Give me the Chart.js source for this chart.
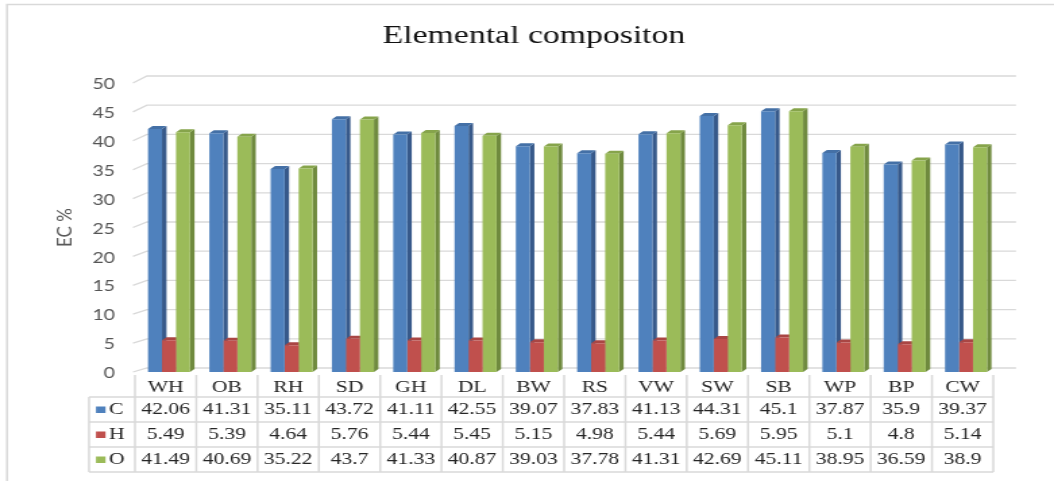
<!DOCTYPE html>
<html><head><meta charset="utf-8">
<script src="https://cdn.jsdelivr.net/npm/chart.js@4.4.1/dist/chart.umd.min.js"></script>
<style>html,body{margin:0;padding:0;background:#fff;overflow:hidden}</style>
</head><body>
<canvas id="c" width="781" height="481" style="width:1054px;height:481px;display:block"></canvas>
<script>
const categories = ['WH','OB','RH','SD','GH','DL','BW','RS','VW','SW','SB','WP','BP','CW'];
const carbon   = [42.06,41.31,35.11,43.72,41.11,42.55,39.07,37.83,41.13,44.31,45.1,37.87,35.9,39.37];
const hydrogen = [5.49,5.39,4.64,5.76,5.44,5.45,5.15,4.98,5.44,5.69,5.95,5.1,4.8,5.14];
const oxygen   = [41.49,40.69,35.22,43.7,41.33,40.87,39.03,37.78,41.31,42.69,45.11,38.95,36.59,38.9];
const seriesNames = ['C','H','O'];
const yTickValues = [0,5,10,15,20,25,30,35,40,45,50];
const chartTitle = 'Elemental compositon';
const yTitle = 'EC %';

const S = 1054/781;            // horizontal stretch of the picture
const X = r => r / S;          // picture x -> canvas x
const frontCol = ['#4F81BD','#C0504D','#9BBB59'];
const sideCol  = ['#37598A','#8E3A38','#6F8A3E'];
const topCol   = ['#4470A6','#A94644','#86A44B'];
const gridCol = '#D9D9D9';
const DX = X(4.5), DY = 3;

const seriesValues = [carbon, hydrogen, oxygen];

const deco = {
  id: 'deco',
  beforeDraw(chart) {
    const ctx = chart.ctx;
    ctx.save();
    // outer frame (left & top)
    ctx.strokeStyle = gridCol; ctx.lineWidth = 1.5;
    ctx.beginPath();
    ctx.moveTo(X(7), 482); ctx.lineTo(X(7), 4.5); ctx.lineTo(800, 4.5);
    ctx.stroke();
    // title
    ctx.fillStyle = '#111'; ctx.font = '25px "Liberation Serif", "Times New Roman", serif';
    ctx.textAlign = 'center'; ctx.textBaseline = 'middle';
    ctx.fillText(chartTitle, X(534), 36);
    // y-axis title
    const ca = chart.chartArea;
    ctx.save();
    ctx.translate(X(65), (ca.top + ca.bottom) / 2);
    ctx.scale(0.85, 1);
    ctx.rotate(-Math.PI / 2);
    ctx.fillStyle = '#595959'; ctx.font = '17px Lato, "Open Sans", sans-serif';
    ctx.fillText(yTitle, 0, 0);
    ctx.restore();
    ctx.restore();
  },
  beforeDatasetsDraw(chart) {
    const ctx = chart.ctx, ca = chart.chartArea, y = chart.scales.y;
    const backTop = 76, backBottom = 368;
    const frontLeft = ca.left - 4, backLeft = X(147), backRight = X(1016);
    ctx.save();
    ctx.strokeStyle = gridCol; ctx.lineWidth = 1.3;
    yTickValues.forEach(v => {
      const fy = y.getPixelForValue(v);
      const by = backTop + (fy - ca.top) * (backBottom - backTop) / (ca.bottom - ca.top);
      ctx.beginPath();
      ctx.moveTo(frontLeft, fy); ctx.lineTo(backLeft, by); ctx.lineTo(backRight, by);
      ctx.stroke();
    });
    // 3D side & top faces (fronts are drawn by Chart.js afterwards)
    const metas = [0,1,2].map(i => chart.getDatasetMeta(i));
    metas.forEach((meta, di) => {
      meta.data.forEach(el => {
        const p = el.getProps(['x','y','base','width'], true);
        const r = p.x + p.width / 2;
        ctx.fillStyle = sideCol[di];
        ctx.beginPath();
        ctx.moveTo(r, p.y); ctx.lineTo(r + DX, p.y - DY); ctx.lineTo(r + DX, p.base - DY); ctx.lineTo(r, p.base);
        ctx.closePath(); ctx.fill();
      });
    });
    metas.forEach((meta, di) => {
      meta.data.forEach(el => {
        const p = el.getProps(['x','y','base','width'], true);
        const l = p.x - p.width / 2, r = p.x + p.width / 2;
        ctx.fillStyle = topCol[di];
        ctx.beginPath();
        ctx.moveTo(l, p.y); ctx.lineTo(l + DX, p.y - DY); ctx.lineTo(r + DX, p.y - DY); ctx.lineTo(r, p.y);
        ctx.closePath(); ctx.fill();
      });
    });
    ctx.restore();
  },
  afterDraw(chart) {
    const ctx = chart.ctx, xs = chart.scales.x;
    const half = (xs.getPixelForValue(1) - xs.getPixelForValue(0)) / 2;
    const shift = -2.5;
    const colL = i => xs.getPixelForValue(i) - half + shift;
    const n = categories.length;
    const tableRight = colL(n - 1) + 2 * half;
    const headL = X(89);
    const rowLines = [397, 422, 447, 472];
    const topY = 375;
    ctx.save();
    ctx.strokeStyle = gridCol; ctx.lineWidth = 1.5;
    ctx.beginPath();
    rowLines.forEach(ry => { ctx.moveTo(headL, ry); ctx.lineTo(tableRight, ry); });
    for (let i = 0; i <= n; i++) {
      const cx = i < n ? colL(i) : tableRight;
      ctx.moveTo(cx, topY); ctx.lineTo(cx, rowLines[3]);
    }
    ctx.moveTo(headL, rowLines[0]); ctx.lineTo(headL, rowLines[3]);
    ctx.stroke();
    ctx.fillStyle = '#262626';
    ctx.font = '16px "Liberation Serif", "Times New Roman", serif';
    ctx.textAlign = 'center'; ctx.textBaseline = 'middle';
    categories.forEach((c, i) => ctx.fillText(c, colL(i) + half, 388));
    const rowMid = [410, 435, 460];
    seriesValues.forEach((vals, si) => {
      vals.forEach((v, i) => ctx.fillText(String(v), colL(i) + half, rowMid[si]));
      ctx.fillStyle = frontCol[si];
      ctx.fillRect(X(96), rowMid[si] - 3.5, X(9.5), 6.5);
      ctx.fillStyle = '#262626';
      ctx.textAlign = 'left';
      ctx.fillText(seriesNames[si], X(109), rowMid[si]);
      ctx.textAlign = 'center';
    });
    ctx.restore();
  }
};

new Chart(document.getElementById('c'), {
  type: 'bar',
  data: {
    labels: categories,
    datasets: seriesValues.map((vals, i) => ({
      label: seriesNames[i], data: vals,
      backgroundColor: frontCol[i], borderWidth: 0,
      categoryPercentage: 0.685, barPercentage: 1.0
    }))
  },
  options: {
    responsive: false, animation: false, devicePixelRatio: 1,
    layout: { padding: { left: 0, right: 781 - 738.5, top: 83, bottom: 481 - 372 } },
    plugins: { legend: { display: false }, title: { display: false }, tooltip: { enabled: false } },
    scales: {
      x: { display: false },
      y: {
        min: 0, max: 50,
        afterFit(scale) { scale.width = 102.5; },
        afterBuildTicks(scale) { scale.ticks = yTickValues.map(v => ({ value: v })); },
        grid: { display: false, drawTicks: false },
        border: { display: false },
        ticks: { padding: 17.3, labelOffset: 1.5, color: '#555555', font: { family: 'Lato', size: 14.5 } }
      }
    }
  },
  plugins: [deco]
});
</script>
</body></html>
